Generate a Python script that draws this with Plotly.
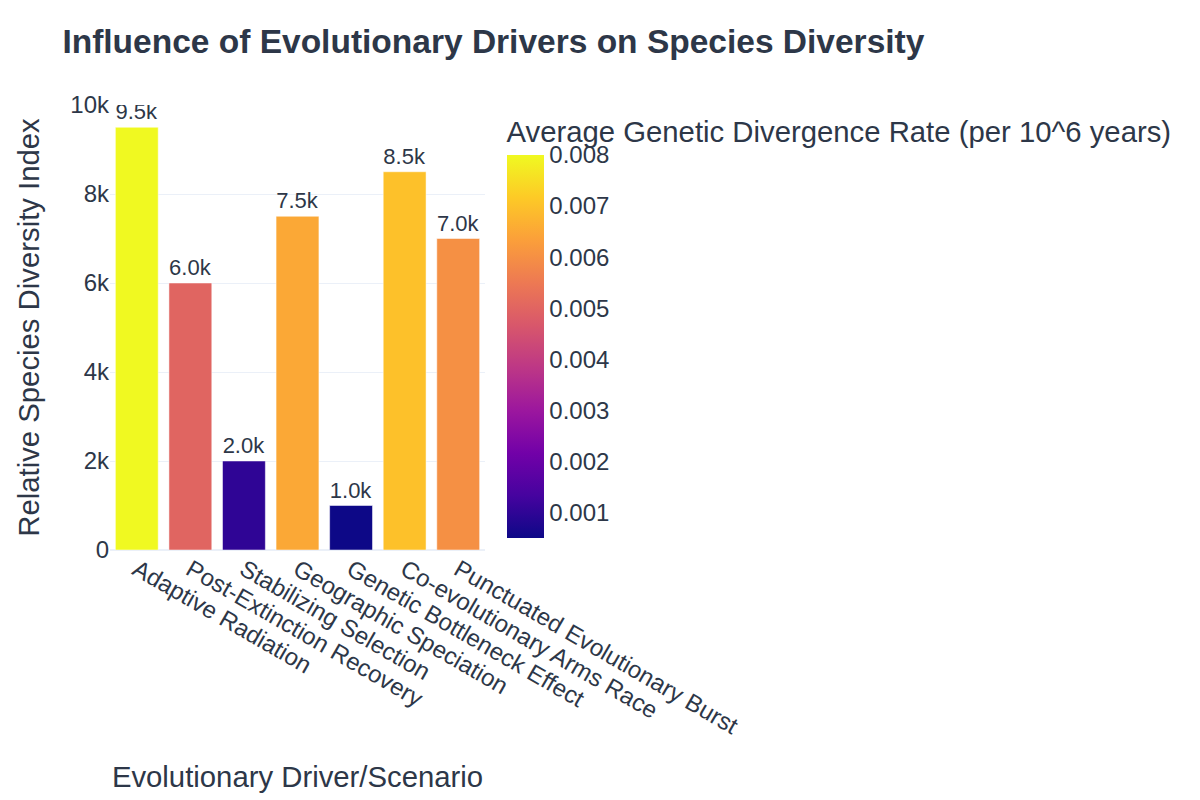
import plotly.graph_objects as go

categories = [
    "Adaptive Radiation",
    "Post-Extinction Recovery",
    "Stabilizing Selection",
    "Geographic Speciation",
    "Genetic Bottleneck Effect",
    "Co-evolutionary Arms Race",
    "Punctuated Evolutionary Burst",
]
diversity_index = [9500, 6000, 2000, 7500, 1000, 8500, 7000]
divergence_rate = [0.008, 0.005, 0.001, 0.0065, 0.0005, 0.007, 0.006]

text_color = "#2d3748"

fig = go.Figure(
    go.Bar(
        x=categories,
        y=diversity_index,
        text=diversity_index,
        texttemplate="%{y:.2s}",
        textposition="outside",
        textfont=dict(size=22, color=text_color),
        marker=dict(
            color=divergence_rate,
            colorscale="Plasma",
            cmin=0.0005,
            cmax=0.008,
            colorbar=dict(
                title=dict(text="Average Genetic Divergence Rate (per 10^6 years)",
                           side="top", font=dict(size=29.3)),
                tickfont=dict(size=24),
                tickvals=[0.001, 0.002, 0.003, 0.004, 0.005, 0.006, 0.007, 0.008],
                outlinewidth=0,
                thickness=37,
                xpad=14,
                ypad=12,
            ),
        ),
    )
)

fig.update_layout(
    template="plotly_white",
    font=dict(family="Arial", size=24, color=text_color),
    title=dict(
        text="<b>Influence of Evolutionary Drivers on Species Diversity</b>",
        font=dict(size=33.5, color=text_color),
        x=0.052,
        y=0.9625,
    ),
    xaxis=dict(title=dict(text="Evolutionary Driver/Scenario", font=dict(size=29.3), standoff=28),
               tickangle=30, tickfont=dict(size=24)),
    yaxis=dict(title=dict(text="Relative Species Diversity Index", font=dict(size=29.3), standoff=22),
               range=[0, 10000], dtick=2000, tickfont=dict(size=24)),
    margin=dict(l=110, r=715, t=105, b=248),
)

fig.write_html("out.html")
